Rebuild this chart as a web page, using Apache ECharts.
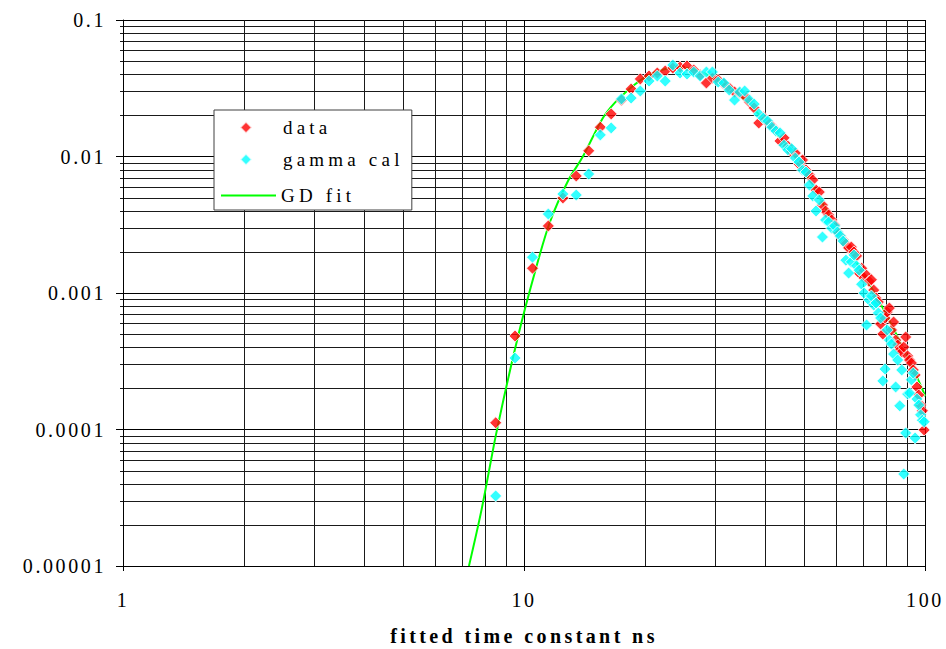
<!DOCTYPE html>
<html>
<head>
<meta charset="utf-8">
<script src="https://cdn.jsdelivr.net/npm/echarts@6/dist/echarts.min.js"></script>
<style>
  html, body { margin: 0; padding: 0; background: #fff; }
  #chart { width: 946px; height: 649px; }
  /* spaced-out lettering of the serif text */
  #chart text { letter-spacing: 2.6px; }
  #chart text[style*="bold"] { letter-spacing: 3.4px; }
  #chart text[style*="19px"] { letter-spacing: 4.2px; }
</style>
</head>
<body>
<div id="chart"></div>
<script>
// bin centres of the time-constant histogram (ns)
const binCentres = [
  8.5, 9.5, 10.5, 11.5, 12.5, 13.5, 14.5, 15.5, 16.5, 17.5,
  18.5, 19.5, 20.5, 21.5, 22.5, 23.5, 24.5, 25.5, 26.5, 27.5,
  28.5, 29.5, 30.5, 31.5, 32.5, 33.5, 34.5, 35.5, 36.5, 37.5,
  38.5, 39.5, 40.5, 41.5, 42.5, 43.5, 44.5, 45.5, 46.5, 47.5,
  48.5, 49.5, 50.5, 51.5, 52.5, 53.5, 54.5, 55.5, 56.5, 57.5,
  58.5, 59.5, 60.5, 61.5, 62.5, 63.5, 64.5, 65.5, 66.5, 67.5,
  68.5, 69.5, 70.5, 71.5, 72.5, 73.5, 74.5, 75.5, 76.5, 77.5,
  78.5, 79.5, 80.5, 81.5, 82.5, 83.5, 84.5, 85.5, 86.5, 87.5,
  88.5, 89.5, 90.5, 91.5, 92.5, 93.5, 94.5, 95.5, 96.5, 97.5,
  98.5, 99.5
];

// measured distribution
const dataValues = [
  0.000112, 0.000484, 0.00152, 0.00310, 0.00497, 0.00720, 0.0110, 0.0164, 0.0205, 0.0259,
  0.0312, 0.0370, 0.0389, 0.0409, 0.0423, 0.0445, 0.0452, 0.0460, 0.0430, 0.0396,
  0.0346, 0.0376, 0.0364, 0.0340, 0.0318, 0.0297, 0.0292, 0.0277, 0.0251, 0.0227,
  0.0176, 0.0195, 0.0179, 0.0167, 0.0156, 0.0130, 0.0137, 0.0119, 0.0108, 0.0106,
  0.00881, 0.00943, 0.00796, 0.00732, 0.00673, 0.00568, 0.00549, 0.00441, 0.00399, 0.00373,
  0.00343, 0.00315, 0.00280, 0.00262, 0.00245, 0.00229, 0.00214, 0.00217, 0.00200, 0.00187,
  0.00140, 0.00152, 0.00129, 0.00135, 0.00122, 0.00125, 0.00105, 0.000919, 0.000859, 0.000593,
  0.000501, 0.000656, 0.000726, 0.000776, 0.000536, 0.000613, 0.000452, 0.000416, 0.000382, 0.000370,
  0.000402, 0.000476, 0.000346, 0.000323, 0.000307, 0.000273, 0.000251, 0.000205, 0.000179, 0.000151,
  0.000137, 0.0000992
];

// gamma calibration distribution
const gammaCalValues = [
  0.0000326, 0.000334, 0.00183, 0.00379, 0.00531, 0.00522, 0.00744, 0.0144, 0.0162, 0.0264,
  0.0268, 0.0302, 0.0357, 0.0389, 0.0357, 0.0468, 0.0409, 0.0402, 0.0416, 0.0389,
  0.0416, 0.0416, 0.0351, 0.0346, 0.0307, 0.0259, 0.0297, 0.0302, 0.0259, 0.0242,
  0.0205, 0.0191, 0.0182, 0.0164, 0.0154, 0.0149, 0.0121, 0.0112, 0.0114, 0.00975,
  0.00911, 0.00796, 0.00770, 0.00618, 0.00514, 0.00399, 0.00480, 0.00257, 0.00343, 0.00331,
  0.00299, 0.00310, 0.00280, 0.00262, 0.00240, 0.00174, 0.00140, 0.00169, 0.00190, 0.00158,
  0.00147, 0.00116, 0.00100, 0.000583, 0.000889, 0.000951, 0.000817, 0.000845, 0.000714, 0.000656,
  0.000227, 0.000277, 0.000536, 0.000452, 0.000423, 0.000357, 0.000205, 0.000323, 0.000149, 0.000273,
  0.0000472, 0.0000943, 0.000182, 0.000185, 0.000231, 0.000259, 0.0000866, 0.000167, 0.000151, 0.000128,
  0.000117, 0.000114
];

// gamma-distribution fit curve
const fitX = [7.29, 7.84, 8.56, 9.66, 10.7, 11.6, 12.9, 14.0, 15.7, 16.9,
              18.5, 20, 22, 24, 26, 28, 30, 33, 36, 40,
              45, 50, 55, 60, 65, 68.1, 74.1, 80, 84.2, 90, 95, 99.4, 100];
const fitY = [0.00001, 0.000026, 0.000099, 0.00048, 0.0015, 0.0033, 0.0067, 0.0099, 0.019, 0.025,
              0.032, 0.038, 0.043, 0.045, 0.044, 0.041, 0.037, 0.031, 0.025, 0.018,
              0.012, 0.0078, 0.0048, 0.0030, 0.0020, 0.0016, 0.00105, 0.00070, 0.00052, 0.00035, 0.00025, 0.000185, 0.000175];

// axis tick labels, one per decade
const xTickLabels = ['1', '10', '100'];
const yTickLabels = ['0.00001', '0.0001', '0.001', '0.01', '0.1'];

// intermediate log grid lines (2..9 of each decade)
const xMinorGrid = [2, 3, 4, 5, 6, 7, 8, 9, 20, 30, 40, 50, 60, 70, 80, 90];
const yMinorGrid = [
  0.00002, 0.00003, 0.00004, 0.00005, 0.00006, 0.00007, 0.00008, 0.00009,
  0.0002, 0.0003, 0.0004, 0.0005, 0.0006, 0.0007, 0.0008, 0.0009,
  0.002, 0.003, 0.004, 0.005, 0.006, 0.007, 0.008, 0.009,
  0.02, 0.03, 0.04, 0.05, 0.06, 0.07, 0.08, 0.09
];

const FONT = "'Liberation Serif', 'Times New Roman', serif";
const pair = (xs, ys) => xs.map((x, i) => [x, ys[i]]);
const snap = v => Math.round(v) + 0.5;

const chart = echarts.init(document.getElementById('chart'), null, { renderer: 'svg' });

const legendText = { fontFamily: FONT, fontSize: 19, color: '#000' };

chart.setOption({
  animation: false,
  backgroundColor: '#ffffff',
  grid: { left: 123, right: 21, top: 20, bottom: 83, containLabel: false, outerBoundsMode: 'none' },
  legend: [
    {
      // framed legend box holding the two marker entries
      orient: 'vertical',
      left: 214,
      top: 110,
      z: 4,
      backgroundColor: '#ffffff',
      borderColor: '#404040',
      borderWidth: 1,
      borderRadius: 0,
      padding: [8, 46, 41, 25],
      itemWidth: 12,
      itemHeight: 12,
      itemGap: 13,
      symbolKeepAspect: true,
      data: [{ name: 'data', icon: 'diamond' }, { name: 'gamma cal', icon: 'diamond' }],
      textStyle: Object.assign({ padding: [0, 0, 0, 26] }, legendText)
    },
    {
      // line entry inside the same box
      orient: 'vertical',
      left: 221,
      top: 186,
      z: 6,
      padding: 0,
      itemWidth: 55,
      itemHeight: 2,
      data: [{ name: 'GD fit', icon: 'rect' }],
      textStyle: legendText
    }
  ],
  xAxis: {
    type: 'log',
    logBase: 10,
    min: 1,
    max: 100,
    name: 'fitted time constant ns',
    nameLocation: 'middle',
    nameGap: 60,
    nameTextStyle: { fontFamily: FONT, fontSize: 20, fontWeight: 'bold', color: '#000' },
    axisLine: { lineStyle: { color: '#000', width: 1 } },
    axisTick: { show: true, inside: false, length: 5, lineStyle: { color: '#000' } },
    axisLabel: {
      margin: 24,
      fontFamily: FONT, fontSize: 20, color: '#000',
      formatter: v => xTickLabels[Math.round(Math.log10(v))]
    },
    splitLine: { show: true, lineStyle: { color: '#000', width: 1 } }
  },
  yAxis: {
    type: 'log',
    logBase: 10,
    min: 0.00001,
    max: 0.1,
    axisLine: { lineStyle: { color: '#000', width: 1 } },
    axisTick: { show: true, inside: false, length: 7, lineStyle: { color: '#000' } },
    axisLabel: {
      margin: 17,
      fontFamily: FONT, fontSize: 20, color: '#000',
      formatter: v => yTickLabels[Math.round(Math.log10(v)) + 5]
    },
    splitLine: { show: true, lineStyle: { color: '#000', width: 1 } }
  },
  series: [
    {
      // vertical minor grid lines
      type: 'custom',
      silent: true,
      z: 0,
      clip: false,
      data: xMinorGrid.map(v => [v, 0.001]),
      renderItem: (params, api) => {
        const cs = params.coordSys;
        const x = snap(api.coord([api.value(0), 0.001])[0]);
        return {
          type: 'line',
          shape: { x1: x, y1: cs.y, x2: x, y2: cs.y + cs.height },
          style: { stroke: '#1a1a1a', lineWidth: 1 }
        };
      }
    },
    {
      // horizontal minor grid lines with short outer ticks
      type: 'custom',
      silent: true,
      z: 0,
      clip: false,
      data: yMinorGrid.map(v => [10, v]),
      renderItem: (params, api) => {
        const cs = params.coordSys;
        const y = snap(api.coord([10, api.value(1)])[1]);
        return {
          type: 'line',
          shape: { x1: cs.x - 3, y1: y, x2: cs.x + cs.width, y2: y },
          style: { stroke: '#1a1a1a', lineWidth: 1 }
        };
      }
    },
    {
      name: 'GD fit',
      type: 'line',
      z: 2,
      data: pair(fitX, fitY),
      smooth: 0.3,
      symbol: 'none',
      showSymbol: false,
      lineStyle: { color: '#00ff00', width: 2 },
      itemStyle: { color: '#00ff00' }
    },
    {
      name: 'data',
      type: 'scatter',
      z: 3,
      data: pair(binCentres, dataValues),
      symbol: 'diamond',
      symbolSize: 12,
      itemStyle: { color: '#ff0000', borderColor: '#ffffff', borderWidth: 1 }
    },
    {
      name: 'gamma cal',
      type: 'scatter',
      z: 4,
      data: pair(binCentres, gammaCalValues),
      symbol: 'diamond',
      symbolSize: 12,
      itemStyle: { color: '#00ffff', borderColor: '#ffffff', borderWidth: 1 }
    }
  ]
});
</script>
</body>
</html>
